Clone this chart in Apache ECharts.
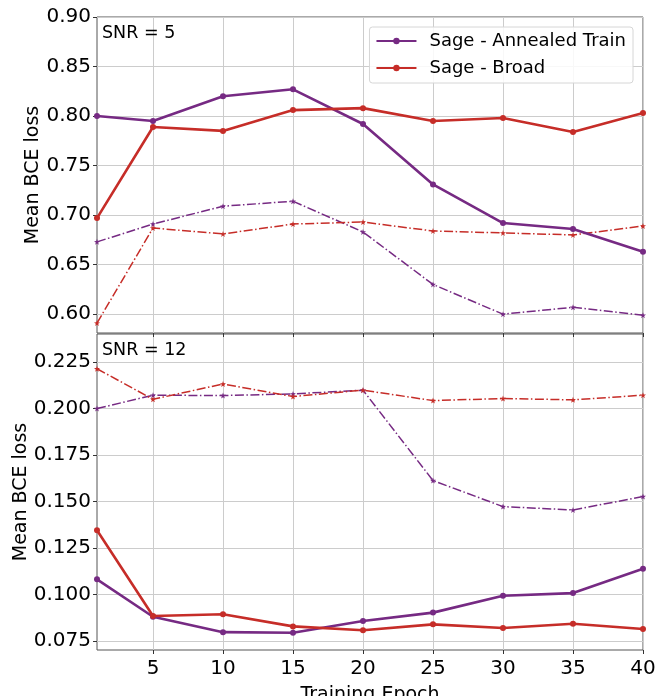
<!DOCTYPE html>
<html>
<head>
<meta charset="utf-8">
<script src="https://cdn.jsdelivr.net/npm/echarts@6/dist/echarts.min.js"></script>
<style>
  html, body { margin: 0; padding: 0; background: #fff; }
  #main { width: 667px; height: 696px; }
</style>
</head>
<body>
<div id="main"></div>
<script>
    var epochs = [1, 5, 10, 15, 20, 25, 30, 35, 40];
    var xTicks = [5, 10, 15, 20, 25, 30, 35, 40];

    // SNR = 5
    var snr5Annealed = [0.800, 0.795, 0.820, 0.827, 0.792, 0.731, 0.692, 0.686, 0.663];
    var snr5Broad = [0.697, 0.789, 0.785, 0.806, 0.808, 0.795, 0.798, 0.784, 0.803];
    var snr5AnnealedDash = [0.673, 0.691, 0.709, 0.714, 0.683, 0.630, 0.600, 0.607, 0.599];
    var snr5BroadDash = [0.591, 0.687, 0.681, 0.691, 0.693, 0.684, 0.682, 0.680, 0.689];
    var yTicksTop = [0.60, 0.65, 0.70, 0.75, 0.80, 0.85, 0.90];

    // SNR = 12
    var snr12Annealed = [0.1082, 0.0881, 0.0798, 0.0795, 0.0858, 0.0903, 0.0994, 0.1008, 0.1139];
    var snr12Broad = [0.1346, 0.0885, 0.0894, 0.0829, 0.0808, 0.0840, 0.0820, 0.0843, 0.0815];
    var snr12AnnealedDash = [0.2000, 0.2072, 0.2070, 0.2079, 0.2099, 0.1613, 0.1473, 0.1455, 0.1527];
    var snr12BroadDash = [0.2214, 0.2050, 0.2132, 0.2065, 0.2099, 0.2043, 0.2054, 0.2047, 0.2072];
    var yTicksBottom = [0.075, 0.100, 0.125, 0.150, 0.175, 0.200, 0.225];

    var purple = '#762a83';
    var red = '#c62d28';
    var font = 'DejaVu Sans';
    var star = 'path://M0,-10L2.35,-3.24L9.51,-3.09L3.8,1.24L5.88,8.09L0,4L-5.88,8.09L-3.8,1.24L-9.51,-3.09L-2.35,-3.24Z';

    function pairs(vals) {
        var out = [];
        for (var i = 0; i < epochs.length; i++) {
            out.push([epochs[i], vals[i]]);
        }
        return out;
    }

    function solid(name, vals, color, idx) {
        return {
            name: name, type: 'line', xAxisIndex: idx, yAxisIndex: idx,
            data: pairs(vals), symbol: 'circle', symbolSize: 6,
            itemStyle: { color: color },
            lineStyle: { color: color, width: 2.6 },
            z: 3
        };
    }

    function dashed(name, vals, color, idx) {
        return {
            name: name, type: 'line', xAxisIndex: idx, yAxisIndex: idx,
            data: pairs(vals), symbol: star, symbolSize: 6,
            itemStyle: { color: color },
            lineStyle: { color: color, width: 1.5, type: [9, 2.5, 1.5, 2.5] },
            z: 2
        };
    }

    function xAxis(idx, showLabels) {
        return {
            type: 'value', gridIndex: idx, min: 1, max: 40,
            name: showLabels ? 'Training Epoch' : '',
            nameLocation: 'middle', nameGap: 36,
            nameTextStyle: { fontFamily: font, fontSize: 19, color: '#000' },
            axisLine: { show: false },
            axisTick: { show: true, customValues: xTicks, length: 4, inside: false, lineStyle: { color: '#333' } },
            axisLabel: { show: showLabels, customValues: xTicks, fontFamily: font, fontSize: 20, color: '#000', margin: 9 },
            splitLine: { show: true, lineStyle: { color: '#cccccc', width: 1 } }
        };
    }

    function yAxis(idx, min, max, ticks, digits, gap) {
        return {
            type: 'value', gridIndex: idx, min: min, max: max,
            name: 'Mean BCE loss', nameLocation: 'middle', nameGap: gap, nameRotate: 90,
            nameMoveOverlap: false,
            nameTextStyle: { fontFamily: font, fontSize: 19, color: '#000' },
            axisLine: { show: false },
            axisTick: { show: true, customValues: ticks, length: 4, lineStyle: { color: '#333' } },
            axisLabel: {
                customValues: ticks, fontFamily: font, fontSize: 20, color: '#000', margin: 6,
                formatter: function (v) { return v.toFixed(digits); }
            },
            splitLine: { show: true, lineStyle: { color: '#cccccc', width: 1 } }
        };
    }

    var option = {
        animation: false,
        backgroundColor: '#fff',
        grid: [
            { left: 97, top: 17, width: 546, height: 316, show: true, borderColor: '#555', borderWidth: 1, containLabel: false, outerBoundsMode: 'none' },
            { left: 97, top: 334, width: 546, height: 316, show: true, borderColor: '#555', borderWidth: 1, containLabel: false, outerBoundsMode: 'none' }
        ],
        xAxis: [xAxis(0, false), xAxis(1, true)],
        yAxis: [
            yAxis(0, 0.581, 0.90, yTicksTop, 2, 54),
            yAxis(1, 0.0702, 0.2401, yTicksBottom, 3, 66)
        ],
        title: [
            { text: 'SNR = 5', left: 102, top: 24, textStyle: { fontFamily: font, fontSize: 17.5, fontWeight: 'normal', color: '#000' }, padding: 0 },
            { text: 'SNR = 12', left: 102, top: 341, textStyle: { fontFamily: font, fontSize: 17.5, fontWeight: 'normal', color: '#000' }, padding: 0 }
        ],
        legend: {
            data: ['Sage - Annealed Train', 'Sage - Broad'],
            orient: 'vertical', right: 34, top: 27,
            itemWidth: 40, itemHeight: 8, itemGap: 9,
            padding: [5, 7, 6, 6],
            backgroundColor: 'rgba(255,255,255,0.85)',
            borderColor: '#d6d6d6', borderWidth: 1, borderRadius: 3,
            textStyle: { fontFamily: font, fontSize: 18, color: '#000', padding: [0, 0, 0, 8] }
        },
        series: [
            dashed('Annealed SNR5 dash', snr5AnnealedDash, purple, 0),
            dashed('Broad SNR5 dash', snr5BroadDash, red, 0),
            solid('Sage - Annealed Train', snr5Annealed, purple, 0),
            solid('Sage - Broad', snr5Broad, red, 0),
            dashed('Annealed SNR12 dash', snr12AnnealedDash, purple, 1),
            dashed('Broad SNR12 dash', snr12BroadDash, red, 1),
            solid('Sage - Annealed Train', snr12Annealed, purple, 1),
            solid('Sage - Broad', snr12Broad, red, 1)
        ]
    };

    var myChart = echarts.init(document.getElementById('main'));
    myChart.setOption(option);
</script>
</body>
</html>
